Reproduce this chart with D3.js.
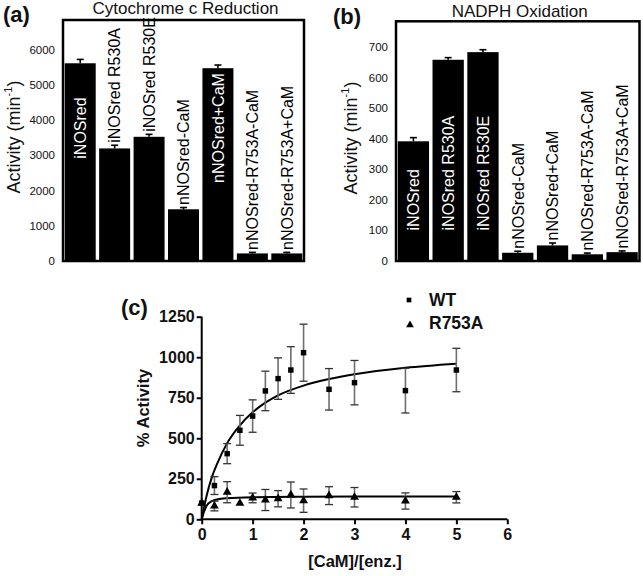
<!DOCTYPE html>
<html><head><meta charset="utf-8">
<script src="https://cdn.jsdelivr.net/npm/d3@7"></script>
<style>
html,body{margin:0;padding:0;background:#fff;}
svg{display:block;font-family:"Liberation Sans",Arial,sans-serif;}
</style></head>
<body>
<svg id="chart" width="643" height="576"></svg>
<script>
// ---------- data ----------
const categories = ["iNOSred","iNOSred R530A","iNOSred R530E","nNOSred-CaM","nNOSred+CaM","nNOSred-R753A-CaM","nNOSred-R753A+CaM"];
const cytoValues = [5620, 3200, 3530, 1470, 5480, 215, 215];
const cytoErrors = [110, 90, 70, 50, 90, 30, 30];
const nadphValues = [392, 659, 684, 27, 51, 22, 29];
const nadphErrors = [12, 7, 8, 5, 8, 4, 4];
const cytoTicks = [0, 1000, 2000, 3000, 4000, 5000, 6000];
const nadphTicks = [0, 100, 200, 300, 400, 500, 600, 700];

const ratioX = [0, 0.25, 0.5, 0.75, 1, 1.25, 1.5, 1.75, 2, 2.5, 3, 4, 5];
const wtY   = [100, 208, 405, 549, 637, 792, 868, 921, 1028, 802, 843, 794, 921];
const wtErr = [0, 55, 62, 92, 100, 122, 128, 144, 176, 128, 137, 138, 134];
const rY    = [100, 82, 167, 99, 132, 119, 127, 150, 115, 146, 136, 113, 136];
const rErr  = [0, 30, 65, 0, 30, 65, 50, 80, 72, 55, 60, 50, 35];
// fitted curves
const wtFitX = [0, 0.05, 0.1, 0.2, 0.3, 0.5, 0.75, 1, 1.25, 1.5, 2, 2.5, 3, 4, 5];
const wtFitY = [0, 80, 150, 260, 340, 470, 580, 660, 720, 765, 825, 865, 895, 935, 960];
const rFitX = [0, 0.05, 0.1, 0.2, 0.3, 0.5, 1, 2, 3, 5];
const rFitY = [0, 50, 85, 112, 122, 130, 136, 139, 140, 141];
const cTicksX = [0, 1, 2, 3, 4, 5, 6];
const cTicksY = [0, 250, 500, 750, 1000, 1250];

const svg = d3.select("#chart");

// ---------- bar panels ----------
function barPanel(opt) {
  const g = svg.append("g");
  const x = d3.scaleBand().domain(categories).range([opt.x0, opt.x1]).paddingInner(0.1).paddingOuter(0.05);
  const y = d3.scaleLinear().domain([0, opt.ymax]).range([opt.yb, opt.yt]);
  const data = categories.map((c, i) => ({c, v: opt.values[i], e: opt.errors[i]}));

  g.selectAll("rect.bar").data(data).join("rect")
    .attr("x", d => x(d.c)).attr("width", x.bandwidth())
    .attr("y", d => y(d.v)).attr("height", d => y(0) - y(d.v))
    .attr("fill", "#000");

  // error bars (upper)
  const eg = g.selectAll("g.err").data(data).join("g");
  eg.append("line")
    .attr("x1", d => x(d.c) + x.bandwidth()/2).attr("x2", d => x(d.c) + x.bandwidth()/2)
    .attr("y1", d => y(d.v)).attr("y2", d => y(d.v + d.e))
    .attr("stroke", "#000").attr("stroke-width", 1.6);
  eg.append("line")
    .attr("x1", d => x(d.c) + x.bandwidth()/2 - 3.5).attr("x2", d => x(d.c) + x.bandwidth()/2 + 3.5)
    .attr("y1", d => y(d.v + d.e)).attr("y2", d => y(d.v + d.e))
    .attr("stroke", "#000").attr("stroke-width", 1.6);

  // frame
  g.append("rect").attr("x", opt.x0).attr("y", opt.yt).attr("width", opt.x1 - opt.x0)
    .attr("height", opt.yb - opt.yt).attr("fill", "none").attr("stroke", "#000").attr("stroke-width", 2.5);

  // y tick labels
  g.selectAll("text.tick").data(opt.ticks).join("text")
    .attr("x", opt.x0 - 8).attr("y", d => y(d)).attr("dy", "0.35em")
    .attr("text-anchor", "end").attr("font-size", 11.5).attr("fill", "#111").text(d => d);

  // bar labels
  data.forEach(d => {
    const cx = x(d.c) + x.bandwidth()/2;
    const t = g.append("text").attr("font-size", 16).attr("dy", "0.36em").text(d.c);
    const len = t.node().getComputedTextLength();
    const barH = y(0) - y(d.v);
    if (barH > len + 40) {
      t.attr("transform", `translate(${cx},${y(opt.insideAt)}) rotate(-90)`)
        .attr("text-anchor", opt.insideMode).attr("fill", "#fff");
    } else {
      t.attr("transform", `translate(${cx},${y(d.v + d.e) - opt.gap}) rotate(-90)`)
        .attr("text-anchor", "start").attr("fill", "#000");
    }
  });

  // y label
  const yl = g.append("text").attr("transform", `translate(${opt.ylx},${opt.yly}) rotate(-90)`)
    .attr("text-anchor", "middle").attr("font-size", 18).attr("fill", "#111");
  yl.append("tspan").text("Activity (min");
  yl.append("tspan").attr("font-size", 11).attr("dy", "-0.75em").text("-1");
  yl.append("tspan").attr("dy", "0.48em").text(")");

  // title
  g.append("text").attr("x", (opt.x0 + opt.x1)/2 + 2).attr("y", opt.titleY).attr("text-anchor", "middle")
    .attr("font-size", 17).attr("fill", "#111").text(opt.title);
  g.append("text").attr("x", opt.letterX).attr("y", opt.letterY).attr("font-size", 22)
    .attr("font-weight", "bold").attr("fill", "#111").text(opt.letter);
}

barPanel({x0: 63, x1: 304, yb: 261, yt: 20, ymax: 6850, values: cytoValues, errors: cytoErrors,
  ticks: cytoTicks, insideMode: "middle", insideAt: 3780, gap: 2.5, ylx: 20, yly: 137,
  title: "Cytochrome c Reduction", titleY: 14, letter: "(a)", letterX: 3, letterY: 22});
barPanel({x0: 396, x1: 639.5, yb: 261, yt: 21.3, ymax: 785, values: nadphValues, errors: nadphErrors,
  ticks: nadphTicks, insideMode: "start", insideAt: 100, gap: 2.5, ylx: 357, yly: 138,
  title: "NADPH Oxidation", titleY: 16.5, letter: "(b)", letterX: 333, letterY: 24});

// ---------- panel c ----------
const gc = svg.append("g");
const xc = d3.scaleLinear().domain([0, 6]).range([201.7, 507.3]);
const yc = d3.scaleLinear().domain([0, 1250]).range([519.3, 316.7]);

const axX = gc.append("g").attr("transform", `translate(0,${yc(0)})`)
  .call(d3.axisBottom(xc).tickValues(cTicksX).tickSize(5).tickPadding(4).tickFormat(d3.format("d")));
const axY = gc.append("g").attr("transform", `translate(${xc(0)},0)`)
  .call(d3.axisLeft(yc).tickValues(cTicksY).tickSize(5).tickPadding(2).tickFormat(d3.format("d")));
[axX, axY].forEach(a => {
  a.select(".domain").attr("stroke", "#000").attr("stroke-width", 2);
  a.selectAll(".tick line").attr("stroke", "#000").attr("stroke-width", 2);
  a.selectAll(".tick text").attr("font-size", 16).attr("font-weight", "bold")
    .attr("fill", "#111").attr("font-family", "'Liberation Sans',Arial,sans-serif");
});
axX.select(".domain").attr("d", `M${xc(0)},0H${xc(6)}`);
axY.select(".domain").attr("d", `M0,${yc(1250)}V${yc(0)}`);

const line = d3.line().x(d => xc(d[0])).y(d => yc(d[1])).curve(d3.curveMonotoneX);
gc.append("path").datum(wtFitX.map((v, i) => [v, wtFitY[i]])).attr("d", line)
  .attr("fill", "none").attr("stroke", "#000").attr("stroke-width", 2);
gc.append("path").datum(rFitX.map((v, i) => [v, rFitY[i]])).attr("d", line)
  .attr("fill", "none").attr("stroke", "#000").attr("stroke-width", 2);

function errBars(ys, es) {
  const d = ratioX.map((v, i) => ({x: v, y: ys[i], e: es[i]})).filter(d => d.e > 0);
  const g = gc.append("g");
  g.selectAll("line.stem").data(d).join("line")
    .attr("x1", d => xc(d.x)).attr("x2", d => xc(d.x))
    .attr("y1", d => yc(d.y - d.e)).attr("y2", d => yc(d.y + d.e))
    .attr("stroke", "#6e6e6e").attr("stroke-width", 1.6);
  ["top", "bot"].forEach(k => {
    g.selectAll("line.cap" + k).data(d).join("line")
      .attr("x1", d => xc(d.x) - 4).attr("x2", d => xc(d.x) + 4)
      .attr("y1", d => yc(k === "top" ? d.y + d.e : d.y - d.e))
      .attr("y2", d => yc(k === "top" ? d.y + d.e : d.y - d.e))
      .attr("stroke", "#333").attr("stroke-width", 1.3);
  });
}
errBars(wtY, wtErr);
errBars(rY, rErr);

const sq = d3.symbol().type(d3.symbolSquare).size(30);
const tri = d3.symbol().type(d3.symbolTriangle).size(34);
gc.selectAll("path.wt").data(ratioX.map((v, i) => [v, wtY[i]])).join("path")
  .attr("d", sq).attr("transform", d => `translate(${xc(d[0])},${yc(d[1])})`).attr("fill", "#000");
gc.selectAll("path.r").data(ratioX.map((v, i) => [v, rY[i]])).join("path")
  .attr("d", tri).attr("transform", d => `translate(${xc(d[0])},${yc(d[1])})`).attr("fill", "#000");

// legend
gc.append("path").attr("d", d3.symbol().type(d3.symbolSquare).size(22)).attr("transform", "translate(409,300)");
gc.append("path").attr("d", d3.symbol().type(d3.symbolTriangle).size(26)).attr("transform", "translate(410,325)");
gc.append("text").attr("x", 429).attr("y", 306).attr("font-size", 17.5).attr("font-weight", "bold").attr("fill", "#111").text("WT");
gc.append("text").attr("x", 429).attr("y", 328.5).attr("font-size", 17.5).attr("font-weight", "bold").attr("fill", "#111").text("R753A");

// labels
gc.append("text").attr("x", 355).attr("y", 567).attr("text-anchor", "middle").attr("font-size", 16.5)
  .attr("font-weight", "bold").attr("fill", "#111").text("[CaM]/[enz.]");
gc.append("text").attr("transform", "translate(149,408) rotate(-90)").attr("text-anchor", "middle")
  .attr("font-size", 16.5).attr("font-weight", "bold").attr("fill", "#111").text("% Activity");
gc.append("text").attr("x", 121).attr("y", 315).attr("font-size", 22).attr("font-weight", "bold")
  .attr("fill", "#111").text("(c)");
</script>
</body></html>
